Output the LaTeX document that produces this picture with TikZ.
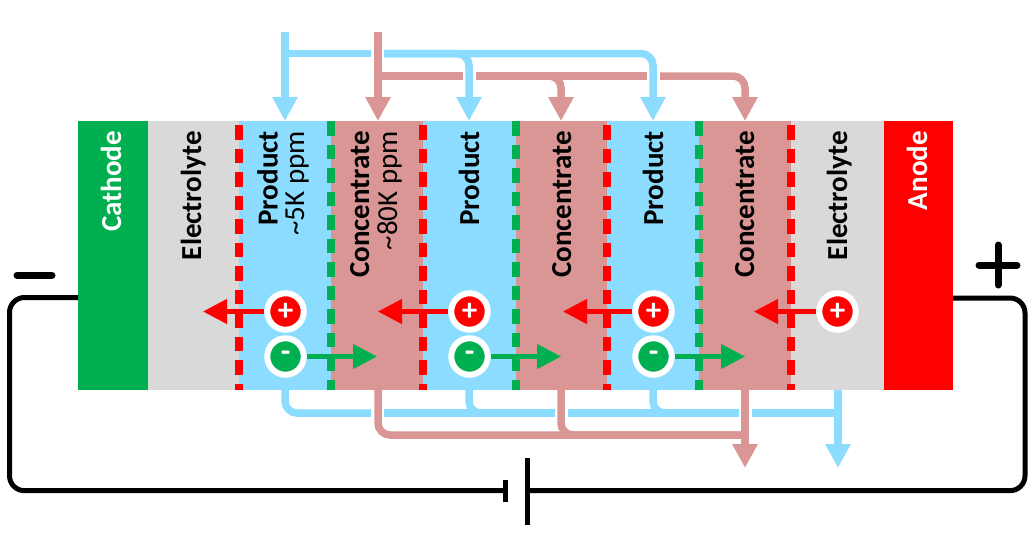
\documentclass[tikz,border=0pt]{standalone}
\usepackage{fontspec}
\setmainfont{Carlito}
\usetikzlibrary{arrows.meta}
\definecolor{prod}{HTML}{8BDCFF}
\definecolor{conc}{HTML}{D99694}
\definecolor{elec}{HTML}{D9D9D9}
\definecolor{cgreen}{HTML}{00B050}
\definecolor{cred}{HTML}{FF0000}
\tikzset{
  cell/.style={anchor=north west,inner sep=0pt,outer sep=0pt,minimum height=269pt},
  lab/.style={rotate=90,anchor=base east,inner sep=0pt,font=\fontsize{29}{30}\selectfont\bfseries},
  labthin/.style={lab,font=\fontsize{29}{30}\selectfont},
  memb/.style={line width=8pt,dash pattern=on 14.5pt off 9pt},
  pipe/.style={line width=7.5pt,rounded corners=12pt},
  pipetip/.style={pipe,-{Triangle[length=24pt,width=24pt]}},
  ion/.style={circle,draw=white,line width=6pt,inner sep=0pt,minimum size=36.5pt,text=white,font=\fontsize{31}{31}\selectfont\bfseries},
  drift/.style={line width=4.5pt,-{Triangle[length=24pt,width=24pt]}},
  wire/.style={line width=5pt,rounded corners=15pt,black},
  plate/.style={line width=5pt,black},
  sign/.style={line width=7pt,line cap=round,black}
}
\begin{document}
\begin{tikzpicture}[x=1pt,y=-1pt]
\useasboundingbox (0,0) rectangle (1031,536);
% cells
\node[cell,fill=cgreen,minimum width=70pt] (cathode) at (78,121) {};
\node[cell,fill=elec,minimum width=91pt] (elecL) at (148,121) {};
\node[cell,fill=prod,minimum width=92pt] (p1) at (239,121) {};
\node[cell,fill=conc,minimum width=92pt] (c1) at (331,121) {};
\node[cell,fill=prod,minimum width=93pt] (p2) at (423,121) {};
\node[cell,fill=conc,minimum width=91pt] (c2) at (516,121) {};
\node[cell,fill=prod,minimum width=92pt] (p3) at (607,121) {};
\node[cell,fill=conc,minimum width=92pt] (c3) at (699,121) {};
\node[cell,fill=elec,minimum width=93pt] (elecR) at (791,121) {};
\node[cell,fill=cred,minimum width=69pt] (anode) at (884,121) {};
% membranes
\foreach \x/\c/\s in {239/cred/125,331/cgreen/121,423/cred/125,516/cgreen/121,607/cred/125,699/cgreen/121,791/cred/125}{
  \draw[memb,\c] (\x,\s) -- (\x,390);
}
% labels
\node[lab,text=white] (tCath) at (121,131) {Cathode};
\node[lab] (tE1) at (201,131) {Electrolyte};
\node[lab] (tP1) at (277.5,131) {Product};
\node[labthin] (tP1b) at (304,131) {\textasciitilde5K ppm};
\node[lab] (tC1) at (369,131) {Concentrate};
\node[labthin] (tC1b) at (397,131) {\textasciitilde80K ppm};
\node[lab] (tP2) at (479,131) {Product};
\node[lab] (tC2) at (571,131) {Concentrate};
\node[lab] (tP3) at (663,131) {Product};
\node[lab] (tC3) at (754,131) {Concentrate};
\node[lab] (tE2) at (847,131) {Electrolyte};
\node[lab,text=white] (tAn) at (927,131) {Anode};
% inlet pipes: product
\coordinate (bIn1) at (285,32);
\coordinate (bTip1) at (285,121);
\coordinate (bT1) at (285,53.5);
\coordinate (bGapL) at (371,53.5);
\coordinate (bGapR) at (384,53.5);
\coordinate (bC2) at (469,53.5);
\coordinate (bTip2) at (469,121);
\coordinate (bC3) at (653,53.5);
\coordinate (bTip3) at (653,121);
\draw[pipetip,prod] (bIn1) -- (bTip1);
\draw[pipe,prod] (bT1) -- (bGapL);
\draw[pipetip,prod] (bGapR) -- (bC2) -- (bTip2);
\draw[pipetip,prod] (bGapR) -- (bC3) -- (bTip3);
% inlet pipes: concentrate
\coordinate (cIn1) at (378,32);
\coordinate (cTip1) at (378,121);
\coordinate (cT1) at (378,76);
\coordinate (cGap1L) at (463,76);
\coordinate (cGap1R) at (476,76);
\coordinate (cC2) at (561,76);
\coordinate (cTip2) at (561,121);
\coordinate (cGap2L) at (647,76);
\coordinate (cGap2R) at (660,76);
\coordinate (cC3) at (745,76);
\coordinate (cTip3) at (745,121);
\draw[pipetip,conc] (cIn1) -- (cTip1);
\draw[pipe,conc] (cT1) -- (cGap1L);
\draw[pipe,conc] (cGap1R) -- (cGap2L);
\draw[pipetip,conc] (cGap1R) -- (cC2) -- (cTip2);
\draw[pipetip,conc] (cGap2R) -- (cC3) -- (cTip3);
% outlet pipes: product
\coordinate (oP1) at (285,390);
\coordinate (oP1c) at (285,413);
\coordinate (oGap1L) at (371,413);
\coordinate (oGap1R) at (384,413);
\coordinate (oP2) at (469,390);
\coordinate (oP2c) at (469,413);
\coordinate (oGap2L) at (555,413);
\coordinate (oGap2R) at (568,413);
\coordinate (oP3) at (653,390);
\coordinate (oP3c) at (653,413);
\coordinate (oGap3L) at (739,413);
\coordinate (oGap3R) at (752,413);
\coordinate (oE) at (838,390);
\coordinate (oEc) at (838,413);
\coordinate (oEtip) at (838,468);
\draw[pipe,prod] (oP1) -- (oP1c) -- (oGap1L);
\draw[pipe,prod] (oGap1R) -- (oGap2L);
\draw[pipe,prod] (oP2) -- (oP2c) -- (oGap2L);
\draw[pipe,prod] (oGap2R) -- (oGap3L);
\draw[pipe,prod] (oP3) -- (oP3c) -- (oGap3L);
\draw[pipe,prod] (oGap3R) -- (oEc);
\draw[pipetip,prod] (oE) -- (oEtip);
% outlet pipes: concentrate
\coordinate (qC1) at (378,390);
\coordinate (qC1c) at (378,435);
\coordinate (qC2) at (561,390);
\coordinate (qC2c) at (561,435);
\coordinate (qC3) at (745,390);
\coordinate (qC3c) at (745,435);
\coordinate (qTip) at (745,468);
\draw[pipe,conc] (qC1) -- (qC1c) -- (qC3c);
\draw[pipe,conc] (qC2) -- (qC2c) -- (qC3c);
\draw[pipetip,conc] (qC3) -- (qTip);
% ions
\node[ion,fill=cred] (pA) at (285.5,311.5) {+};
\node[ion,fill=cred] (pB) at (469.5,311.5) {+};
\node[ion,fill=cred] (pC) at (653.5,311.5) {+};
\node[ion,fill=cred] (pD) at (837.5,311.5) {+};
\node[ion,fill=cgreen] (mA) at (285.5,356.5) {-};
\node[ion,fill=cgreen] (mB) at (469.5,356.5) {-};
\node[ion,fill=cgreen] (mC) at (653.5,356.5) {-};
\coordinate (pAt) at (203,311.5);
\coordinate (pBt) at (378,311.5);
\coordinate (pCt) at (563,311.5);
\coordinate (pDt) at (754,311.5);
\coordinate (mAt) at (377,356.5);
\coordinate (mBt) at (561,356.5);
\coordinate (mCt) at (745,356.5);
\draw[drift,cred] (pA) -- (pAt);
\draw[drift,cred] (pB) -- (pBt);
\draw[drift,cred] (pC) -- (pCt);
\draw[drift,cred] (pD) -- (pDt);
\draw[drift,cgreen] (mA) -- (mAt);
\draw[drift,cgreen] (mB) -- (mBt);
\draw[drift,cgreen] (mC) -- (mCt);
% circuit
\coordinate (wL) at (78,297.5);
\coordinate (wLT) at (9.5,297.5);
\coordinate (wLB) at (9.5,490.7);
\coordinate (batS) at (505,490.7);
\coordinate (wR) at (953,298);
\coordinate (wRT) at (1025,298);
\coordinate (wRB) at (1025,490.7);
\coordinate (batL) at (527,490.7);
\draw[wire] (wL) -- (wLT) -- (wLB) -- (batS);
\draw[wire] (wR) -- (wRT) -- (wRB) -- (batL);
\draw[plate] (505,480) -- (batS) -- (505,501.5);
\draw[plate] (527,458) -- (batL) -- (527,525);
% polarity signs
\draw[sign] (17,275) -- (52,275);
\draw[sign] (979,265) -- (1017,265);
\draw[sign] (998,245) -- (998,285);
\end{tikzpicture}
\end{document}
